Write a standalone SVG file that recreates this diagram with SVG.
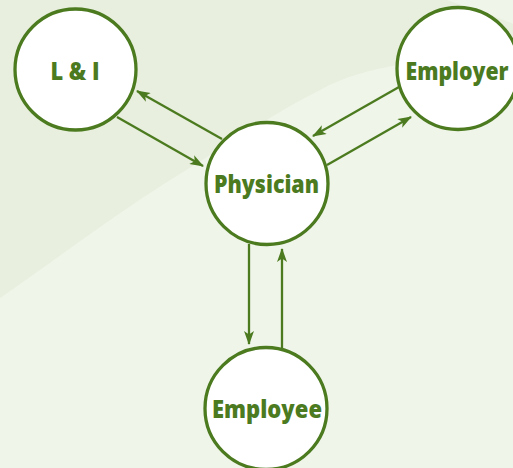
<svg xmlns="http://www.w3.org/2000/svg" width="513" height="468" viewBox="0 0 513 468">
<defs>
<style>
.node circle{fill:#ffffff;stroke:#4b7a1f;stroke-width:3.3}
.node text{fill:#4b7a1f;font-family:"Open Sans","Liberation Sans",sans-serif;font-weight:800;font-size:25px;text-anchor:middle}
.conn line{stroke:#4b7a1f;stroke-width:2.3;marker-end:url(#ah)}
</style>
<marker id="ah" viewBox="0 0 14 10" refX="13" refY="5" markerWidth="14" markerHeight="10" markerUnits="userSpaceOnUse" orient="auto">
<path d="M0,0 L14,5 L0,10 L3.5,5 Z" fill="#4b7a1f"/>
</marker>
</defs>
<rect width="513" height="468" fill="#eff5e9"/>
<path d="M0,0 L447,0 C470,8 495,16 513,24 L513,56 C470,56 430,58 397,65 C370,70 345,76 320,90 C270,115 220,150 170,180 C110,218 55,260 0,298 Z" fill="#e8efde"/>
<g id="connectors" class="conn">
<line x1="117" y1="117" x2="203" y2="166"/>
<line x1="222" y1="139" x2="137" y2="91"/>
<line x1="399" y1="87" x2="313" y2="136"/>
<line x1="327" y1="165" x2="411" y2="117"/>
<line x1="249" y1="244" x2="249" y2="344"/>
<line x1="282" y1="348" x2="282" y2="249"/>
</g>
<g id="li" class="node">
<circle cx="75.5" cy="69.5" r="60.5"/>
<text x="75" y="80" textLength="49" lengthAdjust="spacingAndGlyphs">L &amp; I</text>
</g>
<g id="physician" class="node">
<circle cx="267" cy="183.5" r="61"/>
<text x="266.5" y="193" textLength="105" lengthAdjust="spacingAndGlyphs">Physician</text>
</g>
<g id="employer" class="node">
<circle cx="458" cy="68.5" r="61"/>
<text x="457" y="80" textLength="103" lengthAdjust="spacingAndGlyphs">Employer</text>
</g>
<g id="employee" class="node">
<circle cx="266" cy="408.5" r="61"/>
<text x="267" y="418" textLength="110" lengthAdjust="spacingAndGlyphs">Employee</text>
</g>
</svg>
